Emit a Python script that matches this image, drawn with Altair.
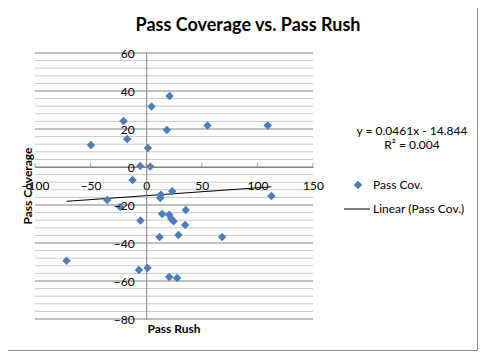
import altair as alt
import pandas as pd

# ---- data ----
pass_rush = [21.0, 4.8, -20.4, 55.1, 109.3, 18.6, -17.1, -49.7, 1.5, -5.4, 3.6, -12.3,
             -35.0, 13.2, 12.6, 23.4, 112.6, -23.4, 14.4, 20.7, 35.6, 22.5, 24.6, -5.1,
             35.0, 12.0, 29.0, 68.3, -71.6, -6.6, 1.2, 20.7, 27.8]
pass_cov = [37.4, 31.9, 24.2, 21.9, 21.9, 19.5, 14.7, 11.6, 10.0, 0.5, 0.2, -6.8,
            -17.4, -14.6, -16.3, -12.8, -15.3, -21.1, -24.7, -25.1, -22.6, -27.2, -28.6, -28.2,
            -30.5, -36.8, -35.8, -36.8, -49.3, -54.2, -53.2, -57.9, -58.4]

x_ticks = [-100, -50, 0, 50, 100, 150]
y_ticks = [-80, -60, -40, -20, 0, 20, 40, 60]
y_minor = [v for v in range(-80, 61, 4) if v % 20 != 0]

title_text = "Pass Coverage vs. Pass Rush"
x_title = "Pass Rush"
y_title = "Pass Coverage"
series_name = "Pass Cov."
trend_name = "Linear (Pass Cov.)"
eq_text = "y = 0.0461x - 14.844"
r2_text = "R² = 0.004"

FONT = "Lato"
W, H = 278, 266
BLUE = "#4A7EBB"
GRID_MAJOR = "#808080"
GRID_MINOR = "#C8C8C8"

df = pd.DataFrame({"x": pass_rush, "y": pass_cov})
xs = alt.Scale(domain=[-100, 150], nice=False, zero=False)
ys = alt.Scale(domain=[-80, 60], nice=False, zero=False)

ax_x = alt.Axis(
    values=x_ticks, title=None, grid=False, ticks=False, zindex=1,
    domainColor=GRID_MAJOR, offset=-H * 80 / 140, labelPadding=13,
    labelFont=FONT, labelFontSize=12, labelColor="black",
    labelFlush=False, labelOverlap=False)
ax_y = alt.Axis(
    values=y_ticks, title=None, grid=False, ticks=False, zindex=1,
    domainColor=GRID_MAJOR, offset=-W * 100 / 250, labelPadding=12,
    labelFont=FONT, labelFontSize=12, labelColor="black",
    labelFlush=False, labelOverlap=False)

one = pd.DataFrame({"k": [0]})

def txt(s, x, y, size=12, bold=False, align="center", angle=0, baseline="middle"):
    d = pd.DataFrame({"t": [s]})
    return alt.Chart(d).mark_text(
        font=FONT, fontSize=size, fontWeight="bold" if bold else "normal",
        align=align, baseline=baseline, angle=angle, color="black"
    ).encode(x=alt.value(x), y=alt.value(y), text="t:N")

frame = alt.Chart(one).mark_rect(fill="white", fillOpacity=0, stroke="#8a8a8a", strokeWidth=1).encode(
    x=alt.value(-40), x2=alt.value(442.5), y=alt.value(-60), y2=alt.value(297.5))

minor = alt.Chart(pd.DataFrame({"v": y_minor})).mark_rule(color=GRID_MINOR, strokeWidth=1).encode(
    y=alt.Y("v:Q", scale=ys, axis=ax_y))
major = alt.Chart(pd.DataFrame({"v": y_ticks})).mark_rule(color=GRID_MAJOR, strokeWidth=1).encode(
    y=alt.Y("v:Q", scale=ys, axis=ax_y))

upticks = alt.Chart(pd.DataFrame({"v": x_ticks, "z": [0] * len(x_ticks)})).mark_tick(
    orient="vertical", size=4, thickness=1, color=GRID_MAJOR, yOffset=-2).encode(
    x=alt.X("v:Q", scale=xs, axis=ax_x), y=alt.Y("z:Q", scale=ys, axis=ax_y))

points = alt.Chart(df).mark_point(shape="diamond", filled=True, size=72, color=BLUE, opacity=1).encode(
    x=alt.X("x:Q", scale=xs, axis=ax_x), y=alt.Y("y:Q", scale=ys, axis=ax_y))

trend = alt.Chart(df).transform_regression("x", "y").mark_line(color="black", strokeWidth=1).encode(
    x=alt.X("x:Q", scale=xs, axis=ax_x), y=alt.Y("y:Q", scale=ys, axis=ax_y))

leg_diamond = alt.Chart(one).mark_point(shape="diamond", filled=True, size=72, color=BLUE, opacity=1).encode(
    x=alt.value(323), y=alt.value(132))
leg_line = alt.Chart(one).mark_rule(color="black", strokeWidth=1).encode(
    x=alt.value(309), x2=alt.value(335), y=alt.value(156))

chart = alt.layer(
    frame, minor, major, upticks, trend, points,
    txt(title_text, 213, -22, size=18, bold=True, baseline="alphabetic"),
    txt(y_title, -7, H / 2, size=12, bold=True, angle=270),
    txt(x_title, 139, 276, size=12, bold=True),
    txt(eq_text, 377, 78),
    txt(r2_text, 377, 92),
    leg_diamond, leg_line,
    txt(series_name, 338, 132, align="left"),
    txt(trend_name, 338, 156, align="left"),
).properties(
    width=W, height=H,
    autosize=alt.AutoSizeParams(type="none"),
    padding={"left": 27, "top": 45, "right": 166, "bottom": 33},
    background="white",
).configure_view(stroke=None)

chart.save("out.html", embed_options={"renderer": "svg", "actions": False})
